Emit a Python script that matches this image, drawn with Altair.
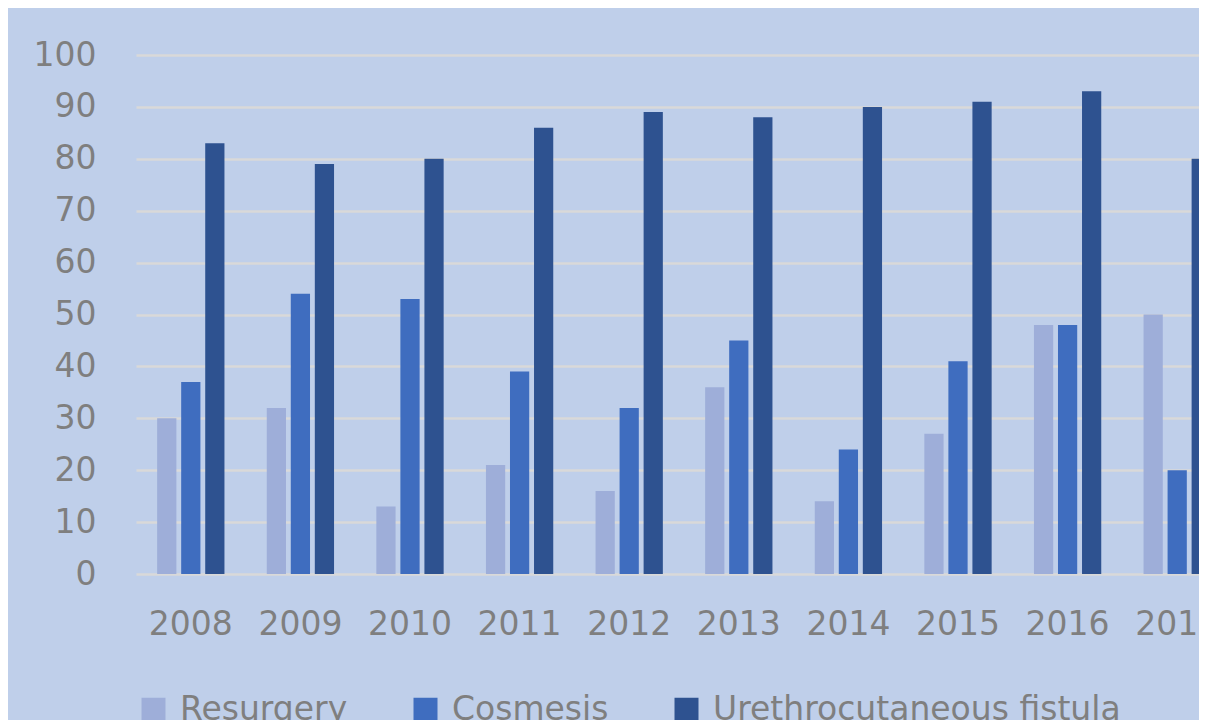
import altair as alt
import pandas as pd

years = [str(y) for y in range(2008, 2018)]
series = ["Resurgery", "Cosmesis", "Urethrocutaneous fistula"]
resurgery = [30, 32, 13, 21, 16, 36, 14, 27, 48, 50]
cosmesis = [37, 54, 53, 39, 32, 45, 24, 41, 48, 20]
fistula = [83, 79, 80, 86, 89, 88, 90, 91, 93, 80]
colors = ["#9eaed9", "#3f6dbf", "#2e5290"]
y_ticks = list(range(0, 101, 10))

rows = []
for i, yr in enumerate(years):
    for s, vals in zip(series, [resurgery, cosmesis, fistula]):
        rows.append({"year": yr, "series": s, "value": vals[i]})
df = pd.DataFrame(rows)

FONT = "DejaVu Sans"
GREY = "#7f7f7f"
FS = 33

chart = alt.Chart(df).mark_bar().encode(
    x=alt.X(
        "year:N", sort=years,
        scale=alt.Scale(range=[0, 1096], paddingInner=0.386, paddingOuter=0.193),
        axis=alt.Axis(title=None, labelAngle=0, ticks=False, domain=False, grid=False,
                      labelPadding=34, labelFontSize=FS, labelColor=GREY, labelFont=FONT),
    ),
    xOffset=alt.XOffset("series:N", sort=series,
                        scale=alt.Scale(paddingInner=0.2, paddingOuter=0)),
    y=alt.Y(
        "value:Q",
        scale=alt.Scale(domain=[0, 100], nice=False),
        axis=alt.Axis(values=y_ticks, title=None, ticks=False, domain=False,
                      gridColor="#d9d9d9", gridWidth=2.5, labelPadding=40,
                      labelFontSize=FS, labelColor=GREY, labelFont=FONT),
    ),
    color=alt.Color(
        "series:N", sort=series,
        scale=alt.Scale(domain=series, range=colors),
        legend=alt.Legend(orient="none", legendX=1, legendY=638, direction="horizontal",
                          title=None, symbolType="square", symbolSize=576,
                          symbolStrokeWidth=0, labelFontSize=FS, labelColor=GREY,
                          labelFont=FONT, labelOffset=10, columnPadding=61,
                          padding=0, labelLimit=0),
    ),
).properties(
    width=1063, height=519,
    autosize=alt.AutoSizeParams(type="none"),
    padding={"left": 128, "top": 47, "right": 0, "bottom": 146},
    background="#bfcfea",
).configure_view(stroke=None)

chart.save("out.html", embed_options={"renderer": "svg", "actions": False})
